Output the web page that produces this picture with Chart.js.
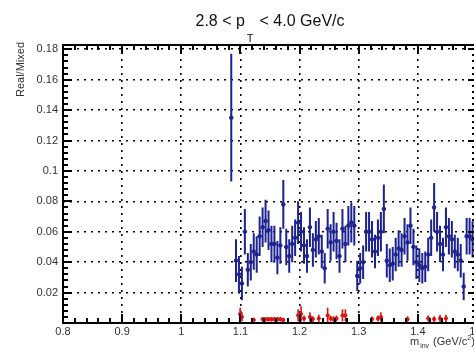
<!DOCTYPE html>
<html>
<head>
<meta charset="utf-8">
<script src="https://cdn.jsdelivr.net/npm/chart.js@4.4.0/dist/chart.umd.min.js"></script>
<style>
  html, body { margin: 0; padding: 0; background: #fff; overflow: hidden; }
  #wrap { width: 490px; height: 352px; }
</style>
</head>
<body>
<div id="wrap"><canvas id="ratioChart" width="490" height="352"></canvas></div>
<script>
// Real/Mixed ratio vs invariant mass

// 1. Data
const blueMass = [
  1.0845,
  1.0925, 1.0975, 1.1025, 1.1075, 1.1125, 1.1175, 1.1225, 1.1275, 1.1325, 1.1375,
  1.1425, 1.1475, 1.1525, 1.1575, 1.1625, 1.1675, 1.1725, 1.1775, 1.1825, 1.1875,
  1.1925, 1.1975, 1.2025, 1.2075, 1.2125, 1.2175, 1.2225, 1.2275, 1.2325, 1.2375,
  1.2425, 1.2475, 1.2525, 1.2575, 1.2625, 1.2675, 1.2725, 1.2775, 1.2825, 1.2875,
  1.2925, 1.2975, 1.3025, 1.3075, 1.3125, 1.3175, 1.3225, 1.3275, 1.3325, 1.3375,
  1.3425, 1.3475, 1.3525, 1.3575, 1.3625, 1.3675, 1.3725, 1.3775, 1.3825, 1.3875,
  1.3925, 1.3975, 1.4025, 1.4075, 1.4125, 1.4175, 1.4225, 1.4275, 1.4325, 1.4375,
  1.4425, 1.4475, 1.4525, 1.4575, 1.4625, 1.4675, 1.4725, 1.4775, 1.4825, 1.4875,
  1.4925, 1.4975
];
const blueRatio = [
  0.135,
  0.041, 0.032, 0.026, 0.060, 0.035, 0.040, 0.047, 0.045, 0.057, 0.063,
  0.067, 0.061, 0.052, 0.052, 0.043, 0.051, 0.078, 0.050, 0.044, 0.052,
  0.056, 0.066, 0.060, 0.051, 0.044, 0.063, 0.048, 0.055, 0.057, 0.047,
  0.036, 0.062, 0.053, 0.060, 0.054, 0.044, 0.062, 0.052, 0.064, 0.066,
  0.064, 0.031, 0.036, 0.040, 0.060, 0.060, 0.055, 0.047, 0.056, 0.060,
  0.075, 0.041, 0.038, 0.039, 0.045, 0.049, 0.048, 0.057, 0.053, 0.064,
  0.050, 0.040, 0.038, 0.036, 0.037, 0.045, 0.056, 0.076, 0.060, 0.052,
  0.045, 0.063, 0.057, 0.055, 0.047, 0.045, 0.041, 0.024, 0.057, 0.057,
  0.055, 0.052
];
const blueError = [
  0.042,
  0.014, 0.012, 0.011, 0.015, 0.011, 0.012, 0.012, 0.012, 0.013, 0.013,
  0.014, 0.013, 0.012, 0.012, 0.011, 0.012, 0.016, 0.012, 0.011, 0.012,
  0.012, 0.014, 0.013, 0.012, 0.011, 0.013, 0.011, 0.012, 0.012, 0.011,
  0.010, 0.013, 0.012, 0.013, 0.012, 0.011, 0.013, 0.012, 0.013, 0.013,
  0.013, 0.010, 0.010, 0.011, 0.013, 0.013, 0.012, 0.011, 0.012, 0.013,
  0.016, 0.011, 0.011, 0.011, 0.011, 0.012, 0.011, 0.012, 0.012, 0.012,
  0.012, 0.011, 0.011, 0.010, 0.010, 0.011, 0.012, 0.016, 0.013, 0.012,
  0.011, 0.013, 0.012, 0.012, 0.011, 0.011, 0.011, 0.009, 0.012, 0.012,
  0.012, 0.012
];

const redMass = [
  1.0995, 1.1025, 1.1225, 1.1375, 1.1425, 1.1475, 1.1525, 1.1575, 1.1625, 1.1675,
  1.1725, 1.1975, 1.2025, 1.2075, 1.2175, 1.2225, 1.2325, 1.2475, 1.2525, 1.2575,
  1.2625, 1.2725, 1.2775, 1.3225, 1.3325, 1.3375, 1.3825, 1.4175, 1.4275, 1.4375,
  1.4475
];
const redRatio = [
  0.006, 0.004, 0.002, 0.0025, 0.0025, 0.0025, 0.0025, 0.0025, 0.0025, 0.0025,
  0.002, 0.005, 0.006, 0.003, 0.004, 0.0025, 0.003, 0.005, 0.003, 0.0025,
  0.003, 0.005, 0.005, 0.0025, 0.003, 0.004, 0.0025, 0.003, 0.0025, 0.003,
  0.003
];
const redError = [
  0.004, 0.003, 0.0015, 0.0015, 0.0015, 0.0015, 0.0015, 0.0015, 0.0015, 0.0015,
  0.0015, 0.004, 0.005, 0.002, 0.003, 0.002, 0.0025, 0.005, 0.002, 0.002,
  0.002, 0.004, 0.004, 0.002, 0.002, 0.003, 0.002, 0.002, 0.002, 0.0025,
  0.0025
];

const xTickValues = [0.8, 0.9, 1.0, 1.1, 1.2, 1.3, 1.4, 1.5];
const xTickLabels = ['0.8', '0.9', '1', '1.1', '1.2', '1.3', '1.4', '1.5'];
const yTickValues = [0.02, 0.04, 0.06, 0.08, 0.10, 0.12, 0.14, 0.16, 0.18];
const yTickLabels = ['0.02', '0.04', '0.06', '0.08', '0.1', '0.12', '0.14', '0.16', '0.18'];

const blueColor = '#1c2290';
const redColor = '#e01010';
const font = "'Liberation Sans', Arial, sans-serif";

// 2. Plugins
const errorBars = {
  id: 'errorBars',
  afterDatasetsDraw(chart) {
    const {ctx, chartArea: a, scales: {x, y}} = chart;
    ctx.save();
    ctx.beginPath();
    ctx.rect(a.left, a.top, a.right - a.left, a.bottom - a.top);
    ctx.clip();
    chart.data.datasets.forEach(ds => {
      ctx.strokeStyle = ds.borderColor;
      ctx.lineWidth = ds.errWidth;
      ctx.beginPath();
      ds.data.forEach((p, i) => {
        const px = x.getPixelForValue(p.x);
        ctx.moveTo(px, y.getPixelForValue(p.y - ds.errors[i]));
        ctx.lineTo(px, y.getPixelForValue(p.y + ds.errors[i]));
      });
      ctx.stroke();
    });
    ctx.restore();
  }
};

const frameAndText = {
  id: 'frameAndText',
  afterDraw(chart) {
    const {ctx, chartArea: a, scales: {x, y}} = chart;
    ctx.save();
    ctx.strokeStyle = '#000';
    ctx.lineWidth = 2;
    ctx.strokeRect(a.left, a.top, a.right - a.left, a.bottom - a.top);

    // inward ticks on all four sides
    ctx.beginPath();
    for (let i = 0; i * 0.004 <= y.max + 1e-9; i++) {
      const py = Math.round(y.getPixelForValue(i * 0.004));
      const len = i % 5 === 0 ? 9 : 5;
      ctx.moveTo(a.left, py); ctx.lineTo(a.left + len, py);
      ctx.moveTo(a.right, py); ctx.lineTo(a.right - len, py);
    }
    for (let i = 0; i <= 35; i++) {
      const px = Math.round(x.getPixelForValue(0.8 + i * 0.02));
      const len = i % 5 === 0 ? 9 : 5;
      ctx.moveTo(px, a.bottom); ctx.lineTo(px, a.bottom - len);
      ctx.moveTo(px, a.top); ctx.lineTo(px, a.top + len);
    }
    ctx.stroke();

    // title
    ctx.fillStyle = '#111';
    ctx.textBaseline = 'alphabetic';
    ctx.textAlign = 'left';
    const part1 = '2.8 < p', part2 = 'T', part3 = '< 4.0 GeV/c';
    ctx.font = `16px ${font}`;
    const w1 = ctx.measureText(part1).width;
    const w3 = ctx.measureText(part3).width;
    ctx.font = `11px ${font}`;
    const w2 = ctx.measureText(part2).width;
    const total = w1 + 2 + w2 + 6 + w3;
    let tx = 270 - total / 2;
    ctx.font = `16px ${font}`;
    ctx.fillText(part1, tx, 26);
    tx += w1 + 2;
    ctx.font = `11px ${font}`;
    ctx.fillText(part2, tx, 42);
    tx += w2 + 6;
    ctx.font = `16px ${font}`;
    ctx.fillText(part3, tx, 26);

    // y axis title
    ctx.save();
    ctx.translate(24, 42);
    ctx.rotate(-Math.PI / 2);
    ctx.textAlign = 'right';
    ctx.font = `11px ${font}`;
    ctx.fillStyle = '#333';
    ctx.fillText('Real/Mixed', 0, 0);
    ctx.restore();

    // x axis title
    ctx.fillStyle = '#333';
    let mx = 410;
    ctx.font = `11px ${font}`;
    ctx.fillText('m', mx, 345);
    mx += ctx.measureText('m').width + 1;
    ctx.font = `7px ${font}`;
    ctx.fillText('inv', mx, 348);
    mx += ctx.measureText('inv').width + 4;
    ctx.font = `11px ${font}`;
    ctx.fillText('(GeV/c', mx, 345);
    mx += ctx.measureText('(GeV/c').width;
    ctx.font = `7px ${font}`;
    ctx.fillText('2', mx, 340);
    mx += ctx.measureText('2').width;
    ctx.font = `11px ${font}`;
    ctx.fillText(')', mx, 345);
    ctx.restore();
  }
};

// 3. Chart
const data = {
  datasets: [{
    label: 'Real/Mixed',
    data: blueMass.map((m, i) => ({x: m, y: blueRatio[i]})),
    errors: blueError,
    errWidth: 2,
    borderColor: blueColor,
    backgroundColor: blueColor,
    pointRadius: 1.8,
    showLine: false
  }, {
    label: 'background',
    data: redMass.map((m, i) => ({x: m, y: redRatio[i]})),
    errors: redError,
    errWidth: 1.6,
    borderColor: redColor,
    backgroundColor: redColor,
    pointRadius: 1.6,
    showLine: false
  }]
};

const config = {
  type: 'scatter',
  data: data,
  options: {
    responsive: false,
    animation: false,
    devicePixelRatio: 1,
    layout: {padding: {left: 0, top: 45, right: 13, bottom: 0}},
    plugins: {legend: {display: false}, tooltip: {enabled: false}},
    scales: {
      x: {
        type: 'linear',
        min: 0.8,
        max: 1.5,
        afterBuildTicks: s => { s.ticks = xTickValues.map(v => ({value: v})); },
        afterFit: s => { s.height = 29; },
        ticks: {
          callback: (v, i) => xTickLabels[i],
          color: '#333',
          font: {family: font, size: 11},
          padding: 2,
          maxRotation: 0
        },
        grid: {color: '#000', lineWidth: 1.6, drawTicks: false},
        border: {display: false, dash: [2, 5]}
      },
      y: {
        type: 'linear',
        min: 0,
        max: 0.1828,
        afterBuildTicks: s => { s.ticks = yTickValues.map(v => ({value: v})); },
        afterFit: s => { s.width = 63; },
        ticks: {
          callback: (v, i) => yTickLabels[i],
          color: '#333',
          font: {family: font, size: 11},
          padding: 5
        },
        grid: {color: '#000', lineWidth: 1.6, drawTicks: false},
        border: {display: false, dash: [2, 5]}
      }
    }
  },
  plugins: [errorBars, frameAndText]
};

const myChart = new Chart(document.getElementById('ratioChart'), config);
</script>
</body>
</html>
